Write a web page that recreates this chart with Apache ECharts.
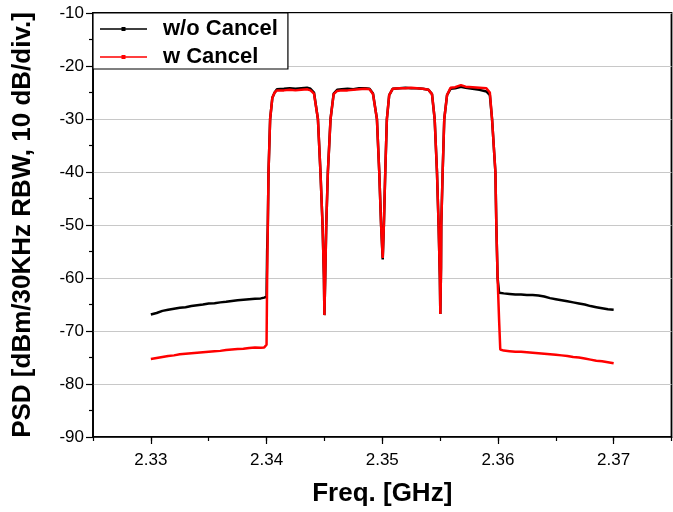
<!DOCTYPE html>
<html>
<head>
<meta charset="utf-8">
<script src="https://cdn.jsdelivr.net/npm/echarts@6/dist/echarts.min.js"></script>
<style>html,body{margin:0;padding:0;background:#fff}#c{width:673px;height:512px}</style>
</head>
<body>
<div id="c"></div>
<script>
// Frequency points (GHz)
const freq = [
2.3300,2.3305,2.3310,2.3315,2.3320,2.3325,2.3330,2.3335,2.3340,2.3345,
2.3350,2.3355,2.3360,2.3365,2.3370,2.3375,2.3380,2.3385,2.3390,2.3395,
2.3398,2.3400,2.34005,2.34011,2.34017,2.34031,2.34050,2.34070,2.34090,
2.3415,2.3420,2.3425,2.3430,2.3435,2.3438,2.3441,
2.34444,2.34466,2.34484,2.34496,2.34500,2.34507,2.34516,2.34530,2.34553,2.3458,2.3461,
2.3465,2.3470,2.3475,2.3480,2.3485,2.3489,2.3492,
2.34954,2.34974,2.34990,2.35004,2.35014,2.35026,2.35040,2.3506,2.3509,
2.3515,2.3520,2.3525,2.3530,2.3535,2.3540,2.3543,
2.35453,2.35473,2.35487,2.35498,2.35502,2.35508,2.35510,2.35522,2.35536,2.3556,2.3559,
2.3563,2.3568,2.3572,2.3578,2.3584,2.3590,2.3593,
2.35949,2.35978,2.35986,2.35997,2.36010,2.36020,2.3605,
2.3610,2.3615,2.3620,2.3625,2.3630,2.3635,2.3640,2.3645,2.3650,2.3655,
2.3660,2.3665,2.3670,2.3675,2.3680,2.3685,2.3690,2.3695,2.3700
];
// PSD without cancellation (dBm)
const woCancel = [
-66.9,-66.6,-66.2,-66.0,-65.8,-65.6,-65.5,-65.3,-65.15,-65.0,
-64.8,-64.75,-64.6,-64.5,-64.35,-64.2,-64.1,-64.0,-63.9,-63.85,
-63.7,-63.5,-55,-50,-40,-30,-26,-25,-24.4,
-24.3,-24.2,-24.3,-24.2,-24.1,-24.3,-25.0,
-30,-40,-50,-60,-67.0,-60,-50,-40,-30,-25.2,-24.5,
-24.4,-24.3,-24.4,-24.2,-24.2,-24.3,-25.2,
-30,-40,-50,-56.5,-50,-40,-30,-25.5,-24.3,
-24.2,-24.1,-24.2,-24.2,-24.3,-24.5,-25.3,
-30,-40,-50,-60,-66.8,-58,-50,-40,-30,-25.5,-24.3,
-24.2,-23.9,-24.1,-24.3,-24.5,-24.8,-25.5,
-30,-40,-50,-60,-62.8,-62.7,-62.9,
-63.0,-63.1,-63.1,-63.2,-63.2,-63.3,-63.5,-63.8,-64.0,-64.2,
-64.4,-64.6,-64.8,-65.0,-65.3,-65.5,-65.7,-65.9,-66.0
];
// PSD with cancellation (dBm)
const wCancel = [
-75.3,-75.1,-74.9,-74.7,-74.6,-74.4,-74.3,-74.2,-74.1,-74.0,
-73.9,-73.8,-73.75,-73.6,-73.5,-73.4,-73.35,-73.2,-73.1,-73.15,
-73.1,-72.6,-60,-50,-40,-30,-26,-25,-24.6,
-24.6,-24.5,-24.6,-24.5,-24.4,-24.6,-25.2,
-30,-40,-50,-60,-67.0,-60,-50,-40,-30,-25.3,-24.7,
-24.6,-24.6,-24.5,-24.4,-24.3,-24.4,-25.3,
-30,-40,-50,-56.2,-50,-40,-30,-25.5,-24.3,
-24.2,-24.2,-24.1,-24.2,-24.3,-24.5,-25.3,
-30,-40,-50,-60,-66.8,-58,-50,-40,-30,-25.5,-24.1,
-24.0,-23.6,-23.9,-24.0,-24.1,-24.2,-25.0,
-30,-40,-50,-60,-68,-73.5,-73.7,
-73.8,-73.9,-73.9,-74.0,-74.1,-74.2,-74.3,-74.4,-74.5,-74.6,
-74.7,-74.9,-75.0,-75.2,-75.4,-75.6,-75.7,-75.9,-76.1
];
const xMajor = [2.33, 2.34, 2.35, 2.36, 2.37];
const seriesNames = ['w/o Cancel', 'w Cancel'];

const pair = (ys) => freq.map((f, i) => [f, ys[i]]);
const font = '"Liberation Sans", Arial, sans-serif';
// legend glyph: line with a small square dot in the middle
const legendIcon = 'path://M0,1.2L47,1.2L47,2.8L0,2.8Z M21.5,0L25.5,0L25.5,4L21.5,4Z';

const chart = echarts.init(document.getElementById('c'), null, {renderer: 'canvas'});
chart.setOption({
  animation: false,
  backgroundColor: '#fff',
  grid: {left: 93, right: 1.5, top: 13, bottom: 74, show: true, borderColor: '#000', borderWidth: 1.8, backgroundColor: 'transparent'},
  legend: {
    left: 93, top: 13, orient: 'vertical',
    backgroundColor: '#fff',
    borderColor: '#000', borderWidth: 1.2,
    padding: [5, 10, 1, 7],
    itemWidth: 47, itemHeight: 4, itemGap: 6,
    icon: legendIcon,
    textStyle: {fontFamily: font, fontWeight: 'bold', fontSize: 22, lineHeight: 22, color: '#000', padding: [0, 0, 0, 11]},
    data: seriesNames
  },
  xAxis: [{
    type: 'value', min: 2.325, max: 2.375, interval: 0.005,
    axisLine: {lineStyle: {color: '#000', width: 1.5}},
    axisTick: {length: 4, lineStyle: {color: '#000', width: 1.2}},
    axisLabel: {show: false},
    splitLine: {show: false}
  }, {
    type: 'value', min: 2.325, max: 2.375, position: 'bottom', gridIndex: 0,
    axisLine: {show: false},
    axisTick: {length: 7, customValues: xMajor, lineStyle: {color: '#000', width: 1.2}},
    axisLabel: {customValues: xMajor, fontFamily: font, fontSize: 17, color: '#000', margin: 15,
      formatter: v => v.toFixed(2)},
    splitLine: {show: false},
    name: 'Freq. [GHz]', nameLocation: 'middle', nameGap: 44,
    nameTextStyle: {fontFamily: font, fontWeight: 'bold', fontSize: 26, color: '#000'}
  }],
  yAxis: {
    type: 'value', min: -90, max: -10, interval: 10,
    axisLine: {show: true, lineStyle: {color: '#000', width: 1.5}},
    axisTick: {show: true, length: 7, lineStyle: {color: '#000', width: 1.2}},
    minorTick: {show: true, splitNumber: 2, length: 4, lineStyle: {color: '#000', width: 1.2}},
    axisLabel: {fontFamily: font, fontSize: 17, color: '#000', margin: 9},
    splitLine: {show: true, lineStyle: {color: '#c8c8c8', width: 1.2}},
    name: 'PSD [dBm/30KHz RBW, 10 dB/div.]', nameLocation: 'middle', nameGap: 57,
    nameTextStyle: {fontFamily: font, fontWeight: 'bold', fontSize: 26, color: '#000'}
  },
  series: [{
    name: seriesNames[0], type: 'line', data: pair(woCancel),
    showSymbol: false, symbol: 'circle', symbolSize: 4,
    lineStyle: {color: '#000', width: 2.5}, itemStyle: {color: '#000'}
  }, {
    name: seriesNames[1], type: 'line', data: pair(wCancel),
    showSymbol: false, symbol: 'circle', symbolSize: 4,
    lineStyle: {color: '#ff0000', width: 2.5}, itemStyle: {color: '#ff0000'}
  }]
});
</script>
</body>
</html>
